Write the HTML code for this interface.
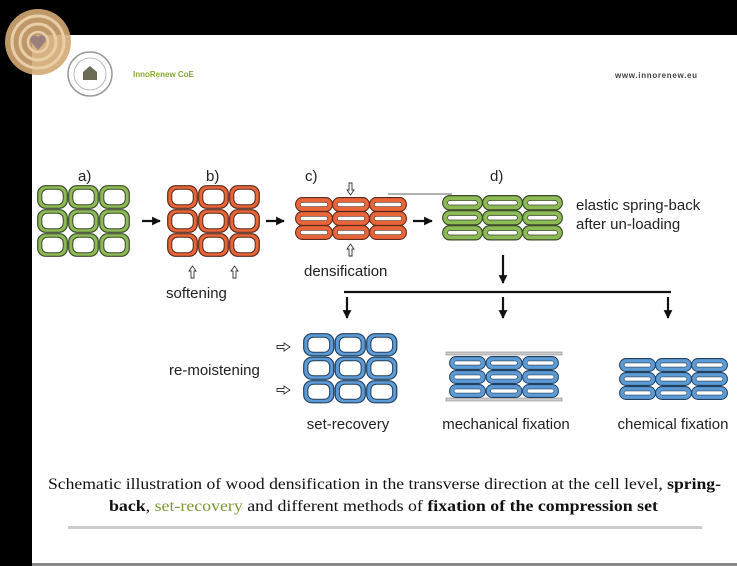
<!DOCTYPE html>
<html><head><meta charset="utf-8"><style>
html,body{margin:0;padding:0;background:#000;width:737px;height:566px;overflow:hidden}
svg{display:block}
</style></head><body>
<svg width="737" height="566" viewBox="0 0 737 566" xmlns="http://www.w3.org/2000/svg">
<defs>
<symbol id="tg" viewBox="0 0 31 24" preserveAspectRatio="none"><rect x="0.7" y="0.7" width="29.6" height="22.6" rx="8" fill="#8cba55" stroke="#3c4a2c" stroke-width="1.2"/><rect x="4.8" y="4.3" width="21.4" height="15.4" rx="5.5" fill="#fff" stroke="#3c4a2c" stroke-width="1"/></symbol>
<symbol id="to" viewBox="0 0 31 24" preserveAspectRatio="none"><rect x="0.7" y="0.7" width="29.6" height="22.6" rx="8" fill="#e8653a" stroke="#5a2a1a" stroke-width="1.2"/><rect x="4.8" y="4.3" width="21.4" height="15.4" rx="5.5" fill="#fff" stroke="#5a2a1a" stroke-width="1"/></symbol>
<symbol id="tb" viewBox="0 0 31 24" preserveAspectRatio="none"><rect x="0.7" y="0.7" width="29.6" height="22.6" rx="8" fill="#5c9bd6" stroke="#23405e" stroke-width="1.2"/><rect x="4.8" y="4.3" width="21.4" height="15.4" rx="5.5" fill="#fff" stroke="#23405e" stroke-width="1"/></symbol>
<symbol id="fo" viewBox="0 0 40 15" preserveAspectRatio="none"><rect x="0.6" y="0.6" width="38.8" height="13.8" rx="6.9" fill="#e8653a" stroke="#5a2a1a" stroke-width="1.1"/><rect x="5.5" y="5.3" width="29" height="4.4" rx="2.2" fill="#fff" stroke="#5a2a1a" stroke-width="0.7"/></symbol>
<symbol id="fg" viewBox="0 0 40 15" preserveAspectRatio="none"><rect x="0.6" y="0.6" width="38.8" height="13.8" rx="6.9" fill="#8cba55" stroke="#3c4a2c" stroke-width="1.1"/><rect x="5.5" y="5.3" width="29" height="4.4" rx="2.2" fill="#fff" stroke="#3c4a2c" stroke-width="0.7"/></symbol>
<symbol id="fb" viewBox="0 0 40 15" preserveAspectRatio="none"><rect x="0.6" y="0.6" width="38.8" height="13.8" rx="6.9" fill="#5c9bd6" stroke="#23405e" stroke-width="1.1"/><rect x="5.5" y="5.3" width="29" height="4.4" rx="2.2" fill="#fff" stroke="#23405e" stroke-width="0.7"/></symbol>
<marker id="ah" viewBox="0 0 10 10" refX="9" refY="5" markerWidth="4" markerHeight="4" orient="auto"><path d="M0,0 L10,5 L0,10 z" fill="#111"/></marker>
</defs>
<rect x="32" y="35" width="705" height="531" fill="#fff"/>
<rect x="32" y="563" width="705" height="3" fill="#888"/>
<circle cx="38" cy="42" r="33" fill="#d4a874" opacity="0.9"/>
<circle cx="38" cy="42" r="26" fill="none" stroke="#e9cfa8" stroke-width="3"/>
<circle cx="38" cy="42" r="18" fill="none" stroke="#e9cfa8" stroke-width="3"/>
<circle cx="38" cy="42" r="10" fill="none" stroke="#e9cfa8" stroke-width="2.5"/>
<path d="M38,50 L31,42 A4,4 0 0 1 38,37 A4,4 0 0 1 45,42 Z" fill="#9c7f7c"/>
<circle cx="90" cy="74" r="22" fill="#fff" stroke="#999" stroke-width="1.5"/>
<circle cx="90" cy="74" r="16" fill="none" stroke="#aaa" stroke-width="0.8"/>
<path d="M83,80 L83,72 L90,66 L97,72 L97,80 Z" fill="#6b6b55"/>
<text x="133" y="77" font-family="Liberation Sans, sans-serif" font-size="8" font-weight="bold" fill="#8aa83a">InnoRenew CoE</text>
<text x="615" y="78" font-family="Liberation Sans, sans-serif" font-size="8" font-weight="bold" fill="#444" textLength="82">www.innorenew.eu</text>
<g font-family="Liberation Sans, sans-serif" font-size="15" fill="#222">
<text x="78" y="181">a)</text><text x="206" y="181">b)</text><text x="305" y="181">c)</text><text x="490" y="181">d)</text>
<text x="576" y="210">elastic spring-back</text><text x="576" y="229">after un-loading</text>
<text x="166" y="298">softening</text><text x="304" y="276">densification</text>
<text x="169" y="375">re-moistening</text>
<text x="348" y="429" text-anchor="middle">set-recovery</text>
<text x="506" y="429" text-anchor="middle">mechanical fixation</text>
<text x="673" y="429" text-anchor="middle">chemical fixation</text>
</g>
<use href="#tg" x="37" y="185" width="31" height="24"/><use href="#tg" x="68" y="185" width="31" height="24"/><use href="#tg" x="99" y="185" width="31" height="24"/>
<use href="#tg" x="37" y="209" width="31" height="24"/><use href="#tg" x="68" y="209" width="31" height="24"/><use href="#tg" x="99" y="209" width="31" height="24"/>
<use href="#tg" x="37" y="233" width="31" height="24"/><use href="#tg" x="68" y="233" width="31" height="24"/><use href="#tg" x="99" y="233" width="31" height="24"/>
<use href="#to" x="167" y="185" width="31" height="24"/><use href="#to" x="198" y="185" width="31" height="24"/><use href="#to" x="229" y="185" width="31" height="24"/>
<use href="#to" x="167" y="209" width="31" height="24"/><use href="#to" x="198" y="209" width="31" height="24"/><use href="#to" x="229" y="209" width="31" height="24"/>
<use href="#to" x="167" y="233" width="31" height="24"/><use href="#to" x="198" y="233" width="31" height="24"/><use href="#to" x="229" y="233" width="31" height="24"/>
<use href="#fo" x="295" y="197" width="38" height="15"/><use href="#fo" x="332" y="197" width="38" height="15"/><use href="#fo" x="369" y="197" width="38" height="15"/>
<use href="#fo" x="295" y="211" width="38" height="15"/><use href="#fo" x="332" y="211" width="38" height="15"/><use href="#fo" x="369" y="211" width="38" height="15"/>
<use href="#fo" x="295" y="225" width="38" height="15"/><use href="#fo" x="332" y="225" width="38" height="15"/><use href="#fo" x="369" y="225" width="38" height="15"/>
<line x1="388" y1="194" x2="452" y2="194" stroke="#666" stroke-width="1"/>
<use href="#fg" x="442" y="195" width="41" height="15.5"/><use href="#fg" x="482" y="195" width="41" height="15.5"/><use href="#fg" x="522" y="195" width="41" height="15.5"/>
<use href="#fg" x="442" y="210" width="41" height="15.5"/><use href="#fg" x="482" y="210" width="41" height="15.5"/><use href="#fg" x="522" y="210" width="41" height="15.5"/>
<use href="#fg" x="442" y="225" width="41" height="15.5"/><use href="#fg" x="482" y="225" width="41" height="15.5"/><use href="#fg" x="522" y="225" width="41" height="15.5"/>
<use href="#tb" x="303" y="333" width="31.5" height="23.5"/><use href="#tb" x="334.5" y="333" width="31.5" height="23.5"/><use href="#tb" x="366" y="333" width="31.5" height="23.5"/>
<use href="#tb" x="303" y="356.5" width="31.5" height="23.5"/><use href="#tb" x="334.5" y="356.5" width="31.5" height="23.5"/><use href="#tb" x="366" y="356.5" width="31.5" height="23.5"/>
<use href="#tb" x="303" y="380" width="31.5" height="23.5"/><use href="#tb" x="334.5" y="380" width="31.5" height="23.5"/><use href="#tb" x="366" y="380" width="31.5" height="23.5"/>
<rect x="446" y="352" width="116" height="3" fill="#ccc" stroke="#888" stroke-width="0.6"/>
<rect x="446" y="398" width="116" height="3" fill="#ccc" stroke="#888" stroke-width="0.6"/>
<use href="#fb" x="449" y="356" width="37" height="14"/><use href="#fb" x="485.5" y="356" width="37" height="14"/><use href="#fb" x="522" y="356" width="37" height="14"/>
<use href="#fb" x="449" y="370" width="37" height="14"/><use href="#fb" x="485.5" y="370" width="37" height="14"/><use href="#fb" x="522" y="370" width="37" height="14"/>
<use href="#fb" x="449" y="384" width="37" height="14"/><use href="#fb" x="485.5" y="384" width="37" height="14"/><use href="#fb" x="522" y="384" width="37" height="14"/>
<use href="#fb" x="619" y="358" width="37" height="14"/><use href="#fb" x="655" y="358" width="37" height="14"/><use href="#fb" x="691" y="358" width="37" height="14"/>
<use href="#fb" x="619" y="372" width="37" height="14"/><use href="#fb" x="655" y="372" width="37" height="14"/><use href="#fb" x="691" y="372" width="37" height="14"/>
<use href="#fb" x="619" y="386" width="37" height="14"/><use href="#fb" x="655" y="386" width="37" height="14"/><use href="#fb" x="691" y="386" width="37" height="14"/>
<g stroke="#111" stroke-width="2.2" fill="none">
<line x1="142" y1="221" x2="160" y2="221" marker-end="url(#ah)"/>
<line x1="266" y1="221" x2="284" y2="221" marker-end="url(#ah)"/>
<line x1="413" y1="221" x2="432" y2="221" marker-end="url(#ah)"/>
<line x1="503" y1="255" x2="503" y2="283" marker-end="url(#ah)"/>
<line x1="344" y1="292" x2="671" y2="292"/>
<line x1="347" y1="297" x2="347" y2="318" marker-end="url(#ah)"/>
<line x1="503" y1="297" x2="503" y2="318" marker-end="url(#ah)"/>
<line x1="668" y1="297" x2="668" y2="318" marker-end="url(#ah)"/>
</g>
<g fill="#fff" stroke="#333" stroke-width="0.9">
<path d="M191,278 L194,278 L194,271 L196,271 L192.5,266 L189,271 L191,271 Z"/>
<path d="M233,278 L236,278 L236,271 L238,271 L234.5,266 L231,271 L233,271 Z"/>
<path d="M349,183 L352,183 L352,190 L354,190 L350.5,195 L347,190 L349,190 Z"/>
<path d="M349,256 L352,256 L352,249 L354,249 L350.5,244 L347,249 L349,249 Z"/>
<path d="M277,345.5 L284,345.5 L284,343 L290,347 L284,351 L284,348.5 L277,348.5 Z"/>
<path d="M277,388.5 L284,388.5 L284,386 L290,390 L284,394 L284,391.5 L277,391.5 Z"/>
</g>
<g font-family="Liberation Serif, serif" font-size="15.5" fill="#111">
<text x="48" y="489" textLength="673" lengthAdjust="spacingAndGlyphs">Schematic illustration of wood densification in the transverse direction at the cell level, <tspan font-weight="bold">spring-</tspan></text>
<text x="109" y="511" textLength="549" lengthAdjust="spacingAndGlyphs"><tspan font-weight="bold">back</tspan>, <tspan fill="#7a9a3a">set-recovery</tspan> and different methods of <tspan font-weight="bold">fixation of the compression set</tspan></text>
</g>
<rect x="68" y="526" width="634" height="3" fill="#ccc"/>
</svg>
</body></html>
